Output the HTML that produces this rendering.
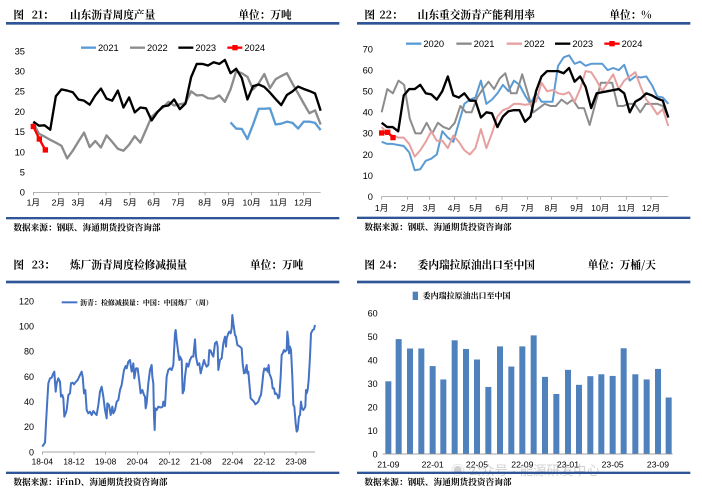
<!DOCTYPE html>
<html><head><meta charset="utf-8"><style>
html,body{margin:0;padding:0;background:#fff;width:702px;height:499px;overflow:hidden}
svg text{font-family:"Liberation Sans","Noto Sans CJK SC",sans-serif}
.t{font-family:"Noto Serif CJK SC","Noto Sans CJK SC",serif;font-weight:bold}
</style></head><body>
<svg id="s" width="702" height="499" viewBox="0 0 702 499" xmlns="http://www.w3.org/2000/svg">
<g id="c1" transform="scale(0.33333)"></g>
<g id="c2" transform="translate(351,0) scale(0.33333)"></g>
<g id="c3" transform="translate(0,250) scale(0.33333)"></g>
<g id="c4" transform="translate(351,250) scale(0.33333)"></g>
</svg>
<script>
function el(g,tag,a,txt){var e=document.createElementNS("http://www.w3.org/2000/svg",tag);for(var k in a)e.setAttribute(k,a[k]);if(txt!=null)e.textContent=txt;g.appendChild(e);return e;}
function T(g,x,y,s,sz,anc,fill,cls){var a={x:x,y:y,"font-size":sz,fill:fill||"#000"};if(anc)a["text-anchor"]=anc;if(cls)a["class"]=cls;return el(g,"text",a,s);}
function header(g,a,b,c,bx,cx,by){T(g,40,55,"图",32,null,"#000","t");T(g,bx[0],55,a,32,null,"#000","t");T(g,bx[1],55,b,32,null,"#000","t");T(g,cx,55,c,32,null,"#000","t");
el(g,"rect",{x:18,y:by,width:1000,height:8,fill:"#2f5596"});}
function footer(g,y,s){el(g,"rect",{x:18,y:y,width:1000,height:7,fill:"#2f5596"});T(g,40,y+40,s,26,null,"#000","t");}
function poly(g,pts,col,w){el(g,"polyline",{points:pts.map(p=>p[0].toFixed(1)+","+p[1].toFixed(1)).join(" "),fill:"none",stroke:col,"stroke-width":w,"stroke-linejoin":"round"});}
// chart1
var g=document.getElementById("c1");
header(g,"21：","山东沥青周度产量","单位：万吨",[95,210],715,66);
[0,5,10,15,20,25,30,35].forEach(v=>T(g,75,577-v*424/35+10,v,28,"end"));
el(g,"line",{x1:100,y1:577,x2:962,y2:577,stroke:"#888","stroke-width":2});
var m1=[100,175,235,318,390,462,535,615,685,755,835,910];
m1.forEach((x,i)=>{el(g,"line",{x1:x,y1:577,x2:x,y2:586,stroke:"#888","stroke-width":2});T(g,x,617,(i+1)+"月",26,"middle");});
function X1(i){return 100+i*862/51}function Y1(v){return 577-v*424/35}
var d23=[17.5,16.5,16.6,15.5,23.8,25.5,25.2,24.8,23,22.7,21.7,24,25.7,23.2,22.7,25.2,21,23.5,19.8,21,20.8,17.8,19.8,21.3,21.5,23,20.6,22,28.5,31.8,31.8,31.4,32.2,31.8,32.8,29.5,30.6,28.3,23,26.3,26.7,26.1,24.7,23.1,21.6,24.1,25,26.2,25.6,25.1,24.5,20.2];
var d22=[17.2,14.5,13.8,13,12.3,11.5,8.4,10.3,12.6,14.8,11.2,12.7,11.1,14.1,12.5,10.8,10.3,11.8,13.9,12.3,15.5,18.7,20,21,22.4,21.5,21.8,22.1,25,24,24.1,23.3,23.2,24,22.4,25.5,30,29.5,28.6,25.5,27,29.3,25.8,28,28.8,29.5,26.9,24.5,22,19.6,20.3,16.8];
var d21=[17.3,15.8,15.7,13.2,16.8,20.7,20.7,20.8,16.8,17,17.5,17.2,15.8,17.5,17.5,17.2,15.4];
poly(g,d22.map((v,i)=>[X1(i),Y1(v)]),"#8c8c8c",7);
poly(g,d21.map((v,i)=>[X1(i+35),Y1(v)]),"#5b9bd5",7);
poly(g,d23.map((v,i)=>[X1(i),Y1(v)]),"#000",7);
var r1=[[100,16.3],[118,13.2],[136,10.5]].map(p=>[p[0],Y1(p[1])]);poly(g,r1,"#ff0000",7);
r1.forEach(p=>el(g,"rect",{x:p[0]-8,y:p[1]-8,width:16,height:16,fill:"#ff0000"}));
[[243,"#5b9bd5","2021"],[390,"#8c8c8c","2022"],[535,"#000","2023"],[682,"#ff0000","2024"]].forEach(l=>{el(g,"line",{x1:l[0],y1:143,x2:l[0]+45,y2:143,stroke:l[1],"stroke-width":7});if(l[2]=="2024")el(g,"rect",{x:l[0]+15,y:135,width:16,height:16,fill:"#ff0000"});T(g,l[0]+51,153,l[2],28);});
footer(g,651,"数据来源：钢联、海通期货投资咨询部");
// chart2
g=document.getElementById("c2");
header(g,"22：","山东重交沥青产能利用率","单位：%",[85,200],775,66);
[0,10,20,30,40,50,60,70].forEach(v=>T(g,66,590-v*443/70+10,v,28,"end"));
el(g,"line",{x1:92,y1:590,x2:952,y2:590,stroke:"#888","stroke-width":2});
var m2=[92,170,235,310,375,453,529,601,678,748,826,900];
m2.forEach((x,i)=>{el(g,"line",{x1:x,y1:590,x2:x,y2:599,stroke:"#888","stroke-width":2});T(g,x,633,(i+1)+"月",26,"middle");});
function Y2(v){return 590-v*443/70}
function ser(d){return d.map((v,i)=>[92+i*860/(d.length-1),Y2(v)]);}
var e20=[26,25,25,24.5,24,21,12.5,13,17,18,20,31,28,26,35,44,46,47,55,44,46,49,53,50,55,53,48,44,49,45,45,45,62,66,67,63,64,62,63,63,63,60,61,60,62.5,55,57,56.5,57,53,47.5,47,44];
var e21=[40,51,49,55,53,37,30,30,35,30,35,33,32,35,43,40,40,47,51,54.5,51,56,58.5,49,49,58,49,40,42,44,43,43,46,44,46,42,42,34,44,54,54,54,43,43,44,44,40,44,44,44,43,38];
var e22=[33,30,29,28,28,25,19,22,26,31,26.5,26.5,23,29,26,22,20,23,32,23,30,38,41,42,44,44,43.5,44,45,54,50,50.5,49,48.5,49.5,45,51,59.5,59,55,50,54,58,51,55,57,59,52,46,43,39,41.5,33.5];
var e23=[35,33,33,31,48,51,51,53,49,48.5,46,50,57,48,47,49,45.5,45.5,37.5,40,39.5,33,38,40.5,41,41,35.5,38,50,57,59.5,59.5,59.5,58.5,61,54.5,57,52,42,49,49.5,50,50.5,51,49,40,45,46.5,49,48,46.5,45.5,37.5];
poly(g,ser(e20),"#5b9bd5",6);poly(g,ser(e21),"#8c8c8c",6);poly(g,ser(e22),"#e6a0a0",6);poly(g,ser(e23),"#000",7);
var r2=[[92,30.2],[110,30.5],[126,28]].map(p=>[p[0],Y2(p[1])]);poly(g,r2,"#ff0000",7);
r2.forEach(p=>el(g,"rect",{x:p[0]-8,y:p[1]-8,width:16,height:16,fill:"#ff0000"}));
[[165,"#5b9bd5","2020"],[316,"#8c8c8c","2021"],[467,"#e6a0a0","2022"],[612,"#000","2023"],[760,"#ff0000","2024"]].forEach(l=>{el(g,"line",{x1:l[0],y1:131,x2:l[0]+46,y2:131,stroke:l[1],"stroke-width":7});if(l[2]=="2024")el(g,"rect",{x:l[0]+15,y:123,width:16,height:16,fill:"#ff0000"});T(g,l[0]+52,141,l[2],28);});
footer(g,650,"数据来源：钢联、海通期货投资咨询部");
// chart3
g=document.getElementById("c3");
header(g,"23：","炼厂沥青周度检修减损量","单位：万吨",[95,210],750,92);
[0,20,40,60,80,100,120].forEach(v=>T(g,102,606-v*453/120+10,v,27,"end"));
el(g,"line",{x1:127,y1:606,x2:945,y2:606,stroke:"#888","stroke-width":2});
[[127,"18-04"],[222,"18-12"],[317,"19-08"],[412,"20-04"],[508,"20-12"],[603,"21-08"],[698,"22-04"],[793,"22-12"],[888,"23-08"]].forEach(l=>{el(g,"line",{x1:l[0],y1:606,x2:l[0],y2:614,stroke:"#888","stroke-width":2});T(g,l[0],643,l[1],25,"middle");});
var p3="127,590 130,585 135,578 138,520 142,450 145,400 150,385 155,383 160,370 163,365 167,425 170,400 175,385 180,395 183,440 187,435 190,445 193,500 197,490 200,480 205,435 210,430 213,400 218,398 222,403 228,395 233,390 240,375 245,365 248,380 252,430 256,420 260,480 265,490 270,485 275,495 280,483 285,490 290,495 295,465 300,425 305,410 310,440 315,480 320,505 322,460 327,465 332,495 337,470 340,490 345,480 350,455 355,450 360,420 365,405 372,360 377,348 380,355 385,335 390,330 395,365 400,340 403,385 408,355 413,355 418,395 422,430 427,420 432,435 435,440 437,475 440,460 445,400 450,360 455,345 457,380 460,400 462,500 464,540 466,475 470,480 475,470 480,472 485,472 488,470 490,455 495,468 500,380 505,360 510,355 515,360 520,345 525,250 527,240 530,270 535,310 538,330 540,320 545,330 548,430 552,420 555,380 560,340 565,350 570,330 575,320 580,320 585,268 588,320 593,345 598,340 602,370 607,350 612,330 615,340 620,350 625,345 628,300 632,302 637,315 640,320 645,280 650,275 653,290 655,360 660,330 665,325 670,280 675,260 678,290 680,265 685,250 688,245 692,250 695,235 697,195 700,220 705,255 708,260 712,285 720,290 725,295 728,340 732,370 735,368 740,345 742,370 745,365 748,400 752,445 757,450 762,455 766,463 770,460 775,455 780,440 783,435 787,400 790,370 793,355 797,360 800,355 803,365 806,345 808,370 812,380 815,390 818,415 822,415 825,432 828,430 832,435 835,445 838,440 842,380 845,315 848,310 852,300 855,305 860,300 862,245 865,270 867,310 870,290 873,300 877,380 880,465 883,470 887,520 890,545 893,540 897,500 900,495 903,455 906,475 910,480 913,475 916,470 918,420 920,430 923,420 926,390 930,320 933,250 938,240 942,238 945,225";
el(g,"polyline",{points:p3,fill:"none",stroke:"#4472c4","stroke-width":6,"stroke-linejoin":"round"});
el(g,"line",{x1:185,y1:157,x2:232,y2:157,stroke:"#4472c4","stroke-width":6});
T(g,240,165,"沥青：检修减损量：中国：中国炼厂（周）",21,null,"#000","t");
footer(g,665,"数据来源：iFinD、海通期货投资咨询部");
// chart4
g=document.getElementById("c4");
header(g,"24：","委内瑞拉原油出口至中国","单位：万桶/天",[85,200],710,92);
[0,10,20,30,40,50,60].forEach(v=>T(g,80,612-v*422/60+10,v,27,"end"));
var bx=[112,143,177,211,245,277,311,345,378,412,447,481,514,548,582,616,651,684,718,751,785,818,853,887,921,953];
var bv=[31,49,45,45,37.5,31.8,48.5,44.8,40.3,28.6,45.9,37.3,45.9,50.6,32.9,25.6,35.9,29.5,33.2,34,33.3,45.1,34,31.8,36.3,24.1];
bx.forEach((x,i)=>{var h=bv[i]*422/60;el(g,"rect",{x:x-9,y:612-h,width:18,height:h,fill:"#4f81bd"});});
el(g,"line",{x1:95,y1:612,x2:965,y2:612,stroke:"#888","stroke-width":2});
[[112,"21-09"],[245,"22-01"],[378,"22-05"],[514,"22-09"],[651,"23-01"],[785,"23-05"],[921,"23-09"]].forEach(l=>T(g,l[0],652,l[1],26,"middle"));
el(g,"rect",{x:185,y:125,width:16,height:25,fill:"#4f81bd"});
T(g,215,146,"委内瑞拉原油出口至中国",24,null,"#000","t");
T(g,300,675,"◉ 公众号 · 能源研发中心",40,null,"rgba(150,150,150,0.45)");
footer(g,665,"数据来源：钢联、海通期货投资咨询部");
</script>
</body></html>
